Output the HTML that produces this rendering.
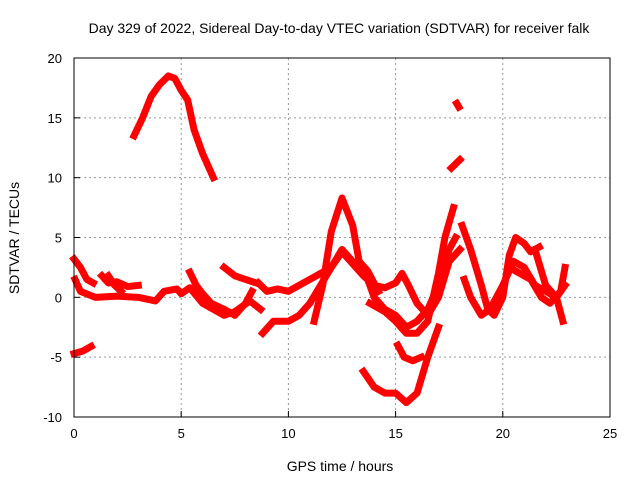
<!DOCTYPE html>
<html><head><meta charset="utf-8"><style>
body{margin:0;background:#fff}
svg{display:block;font-family:"Liberation Sans",sans-serif}
</style></head><body>
<svg id="chart" width="640" height="480">
<text x="339" y="33" text-anchor="middle" font-size="14">Day 329 of 2022, Sidereal Day-to-day VTEC variation (SDTVAR) for receiver falk</text>
<text x="340" y="471" text-anchor="middle" font-size="14">GPS time / hours</text>
<text transform="translate(19,238) rotate(-90)" text-anchor="middle" font-size="14">SDTVAR / TECUs</text>
<g id="grid"></g><g id="series"></g><g id="axes"></g>
</svg>
<script>
const xTicks=[0,5,10,15,20,25];
const yTicks=[-10,-5,0,5,10,15,20];
const seg1=[[2.8,13.5],[3.2,15],[3.6,16.8],[4.0,17.8],[4.4,18.5],[4.7,18.3],[5.0,17.3],[5.3,16.5],[5.6,14],[6.0,12],[6.5,10]];
const seg2=[[0,3.2],[0.3,2.5],[0.6,1.5],[0.9,1.2]];
const seg3=[[0.05,1.5],[0.3,0.5],[1.0,0],[2,0.1],[3,0],[3.8,-0.3],[4.2,0.5],[4.8,0.7],[5,0.3],[5.4,0.8],[6,-0.5],[7,-1.5],[7.5,-1.2],[8.2,-0.3],[8.7,-1]];
const seg4=[[0,-4.7],[0.4,-4.5],[0.8,-4.1]];
const seg5=[[1.3,1.8],[1.6,1.2],[2.0,1.3],[2.5,0.9],[3.0,1.0]];
const seg6=[[1.6,1.8],[1.9,1.0],[2.2,0.5]];
const seg7=[[5.4,2.1],[5.7,1.0],[6.0,0.3],[6.4,-0.5],[7,-1],[7.5,-1.5],[8,-0.5],[8.3,0.5]];
const seg8=[[7.0,2.5],[7.5,1.8],[8.0,1.5],[8.5,1.2]];
const seg9=[[8.6,1.2],[9,0.5],[9.5,0.7],[10,0.5],[10.5,1.0],[11,1.5],[11.5,2.0],[12,2.5],[12.5,3.8],[13,2.8],[13.5,1.8],[14,1.0],[14.5,0.8],[15,1.2],[15.3,2.0],[15.6,1.0],[16,-0.5],[16.5,-1.5],[17,0],[17.5,3],[18,4]];
const seg10=[[11.2,-2],[11.6,1],[12,5.5],[12.5,8.3],[13,6],[13.3,3],[13.7,2.2],[14.2,0.5]];
const seg11=[[8.8,-3],[9.3,-2],[10,-2],[10.5,-1.5],[11,-0.5],[11.5,1],[12,2.5],[12.5,4],[13,3],[13.5,2.5],[14,0],[14.5,-1],[15,-1.5],[15.5,-2.5],[16,-2],[16.5,-1],[17,1],[17.5,4],[17.8,5]];
const seg12=[[13.5,-6.2],[14,-7.5],[14.5,-8],[15,-8],[15.5,-8.8],[16,-8],[16.5,-5],[17,-2.5]];
const seg13=[[15.1,-4],[15.4,-5],[15.8,-5.3],[16.2,-5]];
const seg14=[[13.8,-0.5],[14.5,-1.2],[15,-2],[15.5,-3],[16,-3],[16.5,-2],[17,2],[17.3,5],[17.7,7.5]];
const seg15=[[17.85,16.2],[17.95,15.9]];
const seg16=[[17.6,10.8],[18,11.5]];
const seg17=[[18.1,6],[18.5,4],[19,1],[19.3,-1],[19.6,-1.5],[20,0],[20.3,3.5],[20.6,5],[21,4.5],[21.3,3.8],[21.7,4.2]];
const seg18=[[18.2,1.5],[18.5,0],[19,-1.5],[19.4,-1],[20,1],[20.5,3],[21,2.5],[21.5,1],[22,0.5],[22.5,0],[22.8,-2]];
const seg19=[[20.3,2.5],[20.8,2],[21.3,1.5],[21.8,0],[22.2,-0.5],[22.7,0.5],[22.9,2.5]];
const seg20=[[21.5,4],[22,1],[22.5,0],[22.9,1]];
const segments=[seg1,seg2,seg3,seg4,seg5,seg6,seg7,seg8,seg9,seg10,seg11,seg12,seg13,seg14,seg15,seg16,seg17,seg18,seg19,seg20];

const X0=74,X1=610,Y0=417,Y1=58,xmin=0,xmax=25,ymin=-10,ymax=20;
const sx=v=>X0+(v-xmin)/(xmax-xmin)*(X1-X0);
const sy=v=>Y0-(v-ymin)/(ymax-ymin)*(Y0-Y1);
const NS="http://www.w3.org/2000/svg";
function mk(t,a,p){const e=document.createElementNS(NS,t);for(const k in a)e.setAttribute(k,a[k]);p.appendChild(e);return e;}
const grid=document.getElementById('grid'),axes=document.getElementById('axes'),ser=document.getElementById('series');
xTicks.forEach(t=>{
  if(t>xmin&&t<xmax){const g=mk('line',{x1:sx(t),x2:sx(t),y1:Y1,y2:Y0,stroke:'#999','stroke-dasharray':'2,3'},grid);
  
  }
  const tl=mk('line',{x1:sx(t),x2:sx(t),y1:Y0,y2:Y0-6,stroke:'#000'},axes);
  
  
  const tx=mk('text',{x:sx(t),y:Y0+21,'text-anchor':'middle','font-size':13},axes);
  tx.textContent=t;
  
  
});
yTicks.forEach(t=>{
  if(t>ymin&&t<ymax){const g=mk('line',{x1:X0,x2:X1,y1:sy(t),y2:sy(t),stroke:'#999','stroke-dasharray':'2,3'},grid);
  
  }
  const tl=mk('line',{x1:X0,x2:X0+6,y1:sy(t),y2:sy(t),stroke:'#000'},axes);
  
  
  const tx=mk('text',{x:X0-12,y:sy(t)+5,'text-anchor':'end','font-size':13},axes);
  tx.textContent=t;
  
  
});
const fr=mk('rect',{x:X0,y:Y1,width:X1-X0,height:Y0-Y1,fill:'none',stroke:'#000'},axes);


segments.forEach(s=>{
  const pl=mk('polyline',{points:s.map(p=>sx(p[0])+','+sy(p[1])).join(' '),fill:'none',stroke:'#f00','stroke-width':7,'stroke-linejoin':'round','stroke-linecap':'square'},ser);
  
  
});
</script>
</body></html>
